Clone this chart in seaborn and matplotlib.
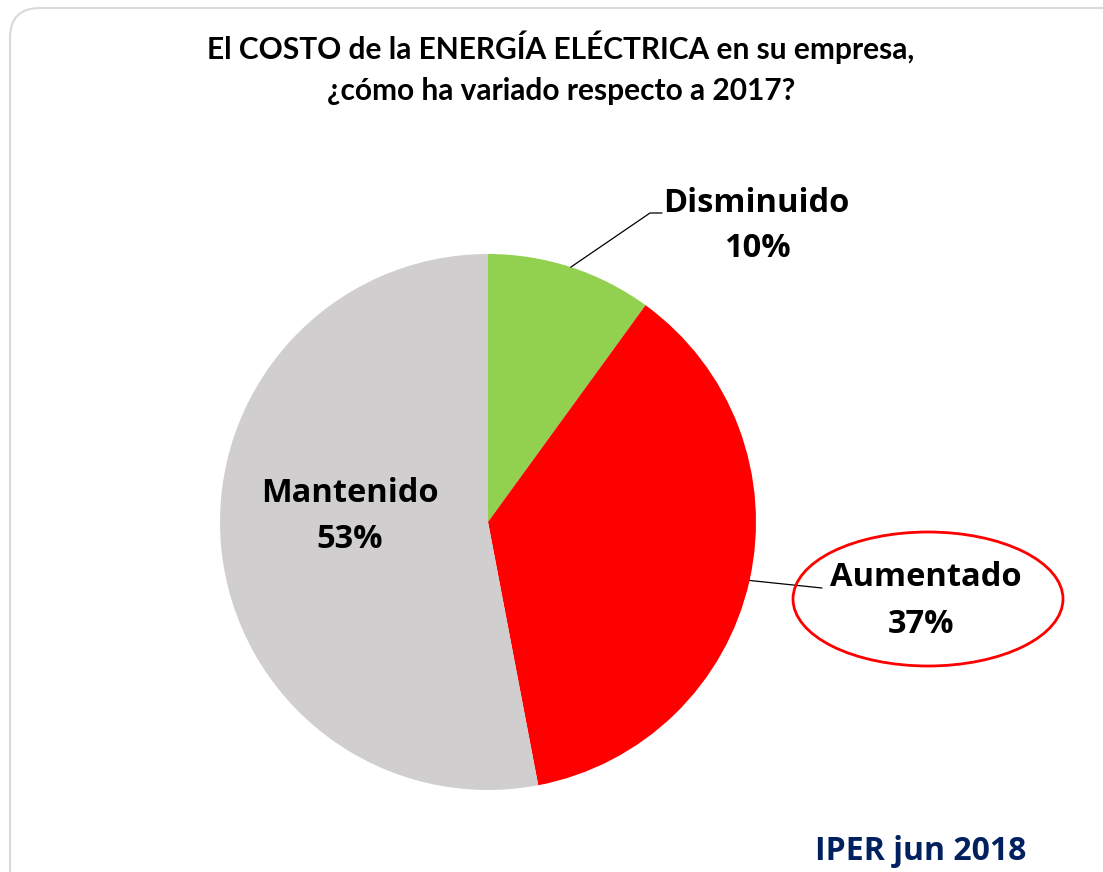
import matplotlib
matplotlib.use("Agg")
import matplotlib.pyplot as plt
import matplotlib.transforms as mtransforms
from matplotlib.patches import FancyBboxPatch, Ellipse
import seaborn as sns
import numpy as np

# data
categories = ['Disminuido', 'Aumentado', 'Mantenido']
shares = [10, 37, 53]
colors = ['#92D050', '#FF0000', '#D0CECE']

title_lines = ['El COSTO de la ENERGÍA ELÉCTRICA en su empresa,', '¿cómo ha variado respecto a 2017?']
source = 'IPER jun 2018'

sns.set_theme(style='white')
plt.rcParams['font.family'] = ['Open Sans', 'DejaVu Sans']

W, H = 1103, 872
fig = plt.figure(figsize=(W / 100, H / 100), dpi=100)

# pie centre and radius in pixels (top-left origin)
cx, cy, r = 488, 522, 268
ax = fig.add_axes([(cx - r) / W, (H - cy - r) / H, 2 * r / W, 2 * r / H])
wedges, _ = ax.pie(shares, colors=colors, startangle=90, counterclock=False,
                   radius=1, wedgeprops=dict(linewidth=0))
ax.set_xlim(-1, 1)
ax.set_ylim(-1, 1)
ax.set_aspect('equal')
ax.axis('off')

def px(x, y):
    # pixel (top-left origin) -> pie data coords
    return (x - cx) / r, (cy - y) / r

pix = mtransforms.IdentityTransform()

# rounded frame
frame = FancyBboxPatch((10, -40), W + 40, H - 8 + 40,
                       boxstyle='round,pad=0,rounding_size=30',
                       transform=pix, facecolor='none', edgecolor='#D9D9D9', lw=1.5)
fig.add_artist(frame)

# title
for i, line in enumerate(title_lines):
    fig.text(561 / W, 1 - (47 + i * 44) / H, line, ha='center', va='center',
             fontsize=21.5, fontweight='bold', color='black',
             family=['Lato', 'DejaVu Sans'])

# wedge mid angles for leader lines
cum = np.cumsum([0] + shares)
mids = [90 - (cum[i] + shares[i] / 2) * 3.6 for i in range(len(shares))]
edge = [(np.cos(np.radians(a)), np.sin(np.radians(a))) for a in mids]

lab_kw = dict(ha='center', va='center', fontsize=23.5, fontweight='bold', color='black')

# Disminuido
ax.plot([edge[0][0], px(650, 213)[0], px(662, 213)[0]],
        [edge[0][1], px(650, 213)[1], px(662, 213)[1]], color='black', lw=0.9, clip_on=False)
fig.text(756 / W, 1 - 203 / H, categories[0], **lab_kw)
fig.text(757 / W, 1 - 248 / H, f'{shares[0]}%', **lab_kw)

# Aumentado
ax.plot([edge[1][0], px(822, 588)[0]], [edge[1][1], px(822, 588)[1]],
        color='black', lw=0.9, clip_on=False)
fig.text(926 / W, 1 - 578 / H, categories[1], **lab_kw)
fig.text(921 / W, 1 - 624 / H, f'{shares[1]}%', **lab_kw)
fig.add_artist(Ellipse((928, H - 599), 270, 134, transform=pix,
                       facecolor='none', edgecolor='#FF0000', lw=2))

# Mantenido (inside)
fig.text(350 / W, 1 - 493 / H, categories[2], **lab_kw)
fig.text(350 / W, 1 - 540 / H, f'{shares[2]}%', **lab_kw)

fig.text(921 / W, 1 - 851 / H, source, ha='center', va='center',
         fontsize=23, fontweight='bold', color='#002060')

fig.savefig('out.png', dpi=100, facecolor='white')
